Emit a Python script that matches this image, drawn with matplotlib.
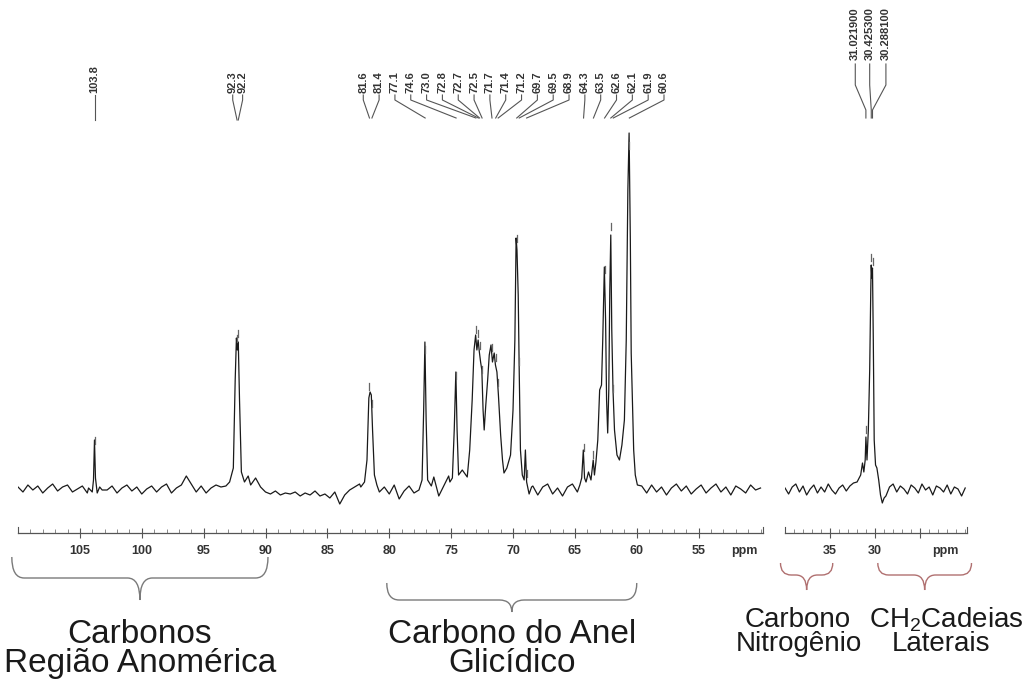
import numpy as np
import matplotlib
matplotlib.use("Agg")
import matplotlib.pyplot as plt
from matplotlib.path import Path
from matplotlib.patches import PathPatch

plt.rcParams['font.family'] = ['Liberation Sans', 'DejaVu Sans']
plt.rcParams['mathtext.default'] = 'regular'

# ---------------- data (intensity in arbitrary units above baseline) ----------------
# left window: 110 -> 50 ppm, baseline noise sampled every 0.4 ppm
left_grid_start, left_grid_stop, left_grid_step = 110.0, 49.9, -0.4
left_noise = [3, -2, 5, 0, 4, -3, 2, 6, -1, 3,
              5, -2, 1, 4, -3, 2, 0, 0, 0, 4,
              -3, 2, 5, -1, 3, -4, 1, 4, -2, 3,
              6, -3, 2, 5, 14, 6, -2, 4, -3, 2,
              5, 3, 10, 0, 0, 0, 0, 0, 12, 3,
              -2, -4, -1, -5, -3, -4, -2, -6, -3, -5,
              -1, -6, -4, -8, -2, -14, -5, 0, 3, 6,
              0, 0, 4, -2, 3, -4, 5, -9, -1, 4,
              -3, 0, 0, 0, 13, -6, 4, 14, 0, 0,
              0, 0, 0, 0, 0, 0, 0, 0, 0, 0,
              0, 0, 0, 0, 4, -5, 3, 6, -4, 2,
              -6, 3, 6, -2, 0, 0, 0, 0, 0, 0,
              0, 0, 0, 0, 0, 0, 4, -3, 5, -2,
              3, -5, 2, 6, -1, 4, -4, 1, 5, -3,
              2, 6, -2, 3, -5, 4, 1, -3, 5, 0,
              2]

# peak regions (ppm, intensity)
peak_103 = [(104.3, 2), (104.0, -2), (103.9, 10), (103.82, 50), (103.74, 12), (103.6, -3), (103.4, 3)]
peak_92 = [(93.2, 4), (92.9, 8), (92.6, 22), (92.45, 110), (92.35, 152), (92.28, 140),
           (92.2, 148), (92.1, 90), (91.95, 18), (91.7, 8), (91.4, 14), (91.2, 5)]
peak_81 = [(82.3, 3), (82.0, 8), (81.8, 30), (81.65, 92), (81.55, 98), (81.45, 95),
           (81.35, 60), (81.2, 15), (81.0, 5)]
peak_77 = [(77.6, 0), (77.35, 10), (77.22, 80), (77.12, 148), (77.02, 70), (76.9, 10), (76.6, 4)]
peak_ring = [(75.1, 8), (74.9, 12), (74.75, 60), (74.62, 118), (74.52, 60), (74.4, 15),
             (74.1, 20), (73.7, 13), (73.5, 40), (73.3, 90), (73.15, 140), (73.02, 155),
             (72.92, 140), (72.82, 150), (72.72, 138), (72.62, 128), (72.52, 120), (72.42, 80),
             (72.33, 60), (72.2, 85), (72.05, 110), (71.92, 135), (71.78, 145), (71.66, 128),
             (71.52, 137), (71.42, 125), (71.3, 118), (71.18, 95), (71.0, 55), (70.85, 30),
             (70.73, 17), (70.5, 22), (70.2, 35), (70.0, 80), (69.85, 150), (69.75, 252),
             (69.68, 240), (69.58, 195), (69.5, 120), (69.4, 40), (69.25, 15), (69.1, 10),
             (69.0, 40), (68.9, 8), (68.7, -4), (68.5, 3)]
peak_62 = [(64.6, 5), (64.45, 12), (64.32, 40), (64.22, 12), (64.1, 8), (63.9, 18), (63.7, 10),
           (63.52, 30), (63.42, 15), (63.3, 28), (63.15, 50), (63.0, 100), (62.85, 105),
           (62.75, 150), (62.62, 223), (62.52, 170), (62.44, 90), (62.35, 57), (62.26, 100),
           (62.18, 200), (62.1, 255), (62.02, 160), (61.92, 100), (61.8, 60), (61.6, 35),
           (61.4, 30), (61.2, 45), (61.0, 70), (60.85, 150), (60.72, 300), (60.62, 357),
           (60.52, 250), (60.45, 137), (60.35, 90), (60.25, 40), (60.12, 15), (59.95, 5)]

# right window: 40 -> 20 ppm
right_grid_start, right_grid_stop, right_grid_step = 40.0, 19.9, -0.4
right_noise = [2, -4, 3, 6, -2, 4, -5, 1, 5, -3,
               3, -2, 6, 0, -4, 2, 5, -1, 4, 7,
               0, 0, 0, 0, 0, 0, 0, 0, -6, 3,
               6, -2, 4, 1, -4, 5, 2, -3, 6, 0,
               3, -5, 4, 2, -2, 5, -4, 3, 1, -6,
               2]
peak_30 = [(32.0, 8), (31.6, 15), (31.4, 27), (31.25, 18), (31.1, 30), (31.02, 53), (30.9, 30),
           (30.75, 60), (30.6, 120), (30.48, 200), (30.43, 225), (30.36, 212), (30.29, 222),
           (30.2, 150), (30.1, 50), (29.95, 25), (29.8, 22), (29.6, 10), (29.4, -5),
           (29.2, -13), (29.0, -8)]

# peak labels
left_single = ["103.8"]
left_single_ppm = [103.8]
left_pair = ["92.3", "92.2"]
left_pair_ppm = [92.3, 92.2]
ring_labels = ["81.6", "81.4", "77.1", "74.6", "73.0", "72.8", "72.7", "72.5", "71.7", "71.4",
               "71.2", "69.7", "69.5", "68.9", "64.3", "63.5", "62.6", "62.1", "61.9", "60.6"]
ring_ppm = [81.6, 81.4, 77.1, 74.6, 73.0, 72.8, 72.7, 72.5, 71.7, 71.4,
            71.2, 69.7, 69.5, 68.9, 64.3, 63.5, 62.6, 62.1, 61.9, 60.6]
right_labels = ["31.021900", "30.425300", "30.288100"]
right_ppm = [31.0219, 30.4253, 30.2881]

left_ticks = [105, 100, 95, 90, 85, 80, 75, 70, 65, 60, 55]
right_ticks = [35, 30]

group_texts = [("Carbonos", "Região Anomérica"), ("Carbono do Anel", "Glicídico"),
               ("Carbono", "Nitrogênio"), ("CH$_2$Cadeias", "Laterais")]
group_ranges = [(110.5, 89.8), (80.2, 60.0), (40.5, 34.7), (29.7, 19.3)]


def build_trace(grid, noise, segments):
    grid = np.asarray(grid, float)
    noise = np.asarray(noise, float)
    keep = np.ones(len(grid), bool)
    xs, ys = [], []
    for seg in segments:
        sx = np.array([p[0] for p in seg], float)
        sy = np.array([p[1] for p in seg], float)
        keep &= ~((grid <= sx.max() + 1e-9) & (grid >= sx.min() - 1e-9))
        xs.append(sx)
        ys.append(sy)
    x = np.concatenate([grid[keep]] + xs)
    y = np.concatenate([noise[keep]] + ys)
    order = np.argsort(-x)
    return x[order], y[order]


lgrid = np.arange(left_grid_start, left_grid_stop, left_grid_step)
rgrid = np.arange(right_grid_start, right_grid_stop, right_grid_step)
lx, ly = build_trace(lgrid, left_noise, [peak_103, peak_92, peak_81, peak_77, peak_ring, peak_62])
rx, ry = build_trace(rgrid, right_noise, [peak_30])

# ---------------- figure ----------------
W, H = 1029, 679
fig = plt.figure(figsize=(W / 100, H / 100), dpi=100)
AX_BOTTOM_PX = 533
ax1 = fig.add_axes([18 / W, (H - AX_BOTTOM_PX) / H, (763 - 18) / W, AX_BOTTOM_PX / H])
ax2 = fig.add_axes([785 / W, (H - AX_BOTTOM_PX) / H, (967 - 785) / W, AX_BOTTOM_PX / H])
ax1.set_xlim(110, 49.8)
ax2.set_xlim(40, 19.8)
for ax in (ax1, ax2):
    ax.set_ylim(-43, 490)
    ax.patch.set_alpha(0)
    for s in ("top", "left", "right"):
        ax.spines[s].set_visible(False)
    ax.spines["bottom"].set_color("#555555")
    ax.spines["bottom"].set_linewidth(0.9)
    ax.set_yticks([])
    ax.tick_params(axis="x", which="major", direction="inout", length=7, width=0.8,
                   color="#555555", labelsize=9, pad=5, labelcolor="#333333")
    ax.tick_params(axis="x", which="minor", direction="in", length=3, width=0.6, color="#777777")

line_kw = dict(color="#1a1a1a", lw=0.9)
ax1.plot(lx, ly, **line_kw)
ax2.plot(rx, ry, **line_kw)

ax1.set_xticks(left_ticks)
ax1.set_xticklabels([str(t) for t in left_ticks], fontweight="bold")
ax1.set_xticks(np.arange(110, 49.5, -1), minor=True)
ax2.set_xticks(right_ticks + [25])
ax2.set_xticklabels([str(t) for t in right_ticks] + [""], fontweight="bold")
ax2.set_xticks(np.arange(40, 19.5, -1), minor=True)
ax1.text(51.3, -43 - 12, "ppm", ha="center", va="top", fontsize=9, fontweight="bold", color="#333333")
ax2.text(22.2, -43 - 12, "ppm", ha="center", va="top", fontsize=9, fontweight="bold", color="#333333")
for ax, xl in ((ax1, (110, 49.8)), (ax2, (40, 19.8))):
    for xe in xl:
        ax.plot([xe, xe], [-43, -37], color="#555555", lw=0.8, clip_on=False)

# ---------------- peak labels ----------------
lab_kw = dict(rotation=90, ha="center", va="bottom", fontsize=8, fontweight="bold", color="#333333")
con_kw = dict(color="#555555", lw=0.8, clip_on=False)


def marker(ax, xs, ys, p):
    h = np.interp(p, xs[::-1], ys[::-1])
    ax.plot([p, p], [h + 5, h + 12], color="#666666", lw=0.9)


def label_group(ax, labels, ppms, lab_pos, y_text, y_bend, y_end, xs, ys):
    for lab, p, lp in zip(labels, ppms, lab_pos):
        ax.text(lp, y_text + 2, lab, **lab_kw)
        ax.plot([lp, lp, p], [y_text, y_bend, y_end], **con_kw)
        marker(ax, xs, ys, p)


label_group(ax1, left_single, left_single_ppm, left_single_ppm, 395, 390, 370, lx, ly)
label_group(ax1, left_pair, left_pair_ppm, [92.65, 91.85], 395, 390, 370, lx, ly)
label_group(ax1, ring_labels, ring_ppm, list(np.linspace(82.1, 57.8, len(ring_labels))),
            395, 390, 372, lx, ly)
for lab, p, lp in zip(right_labels, right_ppm, [32.2, 30.6, 28.8]):
    ax2.text(lp, 430, lab, **lab_kw)
    ax2.plot([lp, lp, p, p], [426, 405, 380, 372], **con_kw)
    marker(ax2, rx, ry, p)


# ---------------- braces and group names ----------------
def brace(ax, x0, x1, y_top, y_mid, y_tip, r, color):
    xc = (x0 + x1) / 2
    s = np.sign(x1 - x0)
    verts = [(x0, y_top), (x0, y_mid), (x0 + s * r, y_mid),
             (xc - s * r, y_mid),
             (xc, y_mid), (xc, y_tip),
             (xc, y_mid), (xc + s * r, y_mid),
             (x1 - s * r, y_mid),
             (x1, y_mid), (x1, y_top)]
    codes = [Path.MOVETO, Path.CURVE3, Path.CURVE3, Path.LINETO, Path.CURVE3, Path.CURVE3,
             Path.CURVE3, Path.CURVE3, Path.LINETO, Path.CURVE3, Path.CURVE3]
    ax.add_patch(PathPatch(Path(verts, codes), fill=False, ec=color, lw=1.0, clip_on=False))
    return xc


# (axes, brace top, brace line, brace tip, corner, colour, font size,
#  line-1 centre, line-1 baseline, line-2 centre, line-2 baseline)
brace_specs = [(ax1, -67, -88, -110, 1.0, "#7a7a7a", 24, None, -153, None, -182),
               (ax1, -93, -110, -122, 1.0, "#7a7a7a", 24, None, -153, None, -182),
               (ax2, -73, -85, -100, 1.2, "#b07070", 20, 38.6, -137, 38.5, -161),
               (ax2, -73, -85, -100, 1.2, "#b07070", 20, 22.1, -137, 22.7, -161)]
for (t1, t2), (x0, x1), spec in zip(group_texts, group_ranges, brace_specs):
    ax, yt, ym, ytip, r, col, fs, c1, yb1, c2, yb2 = spec
    xc = brace(ax, x0, x1, yt, ym, ytip, r, col)
    ax.text(xc if c1 is None else c1, yb1, t1, ha="center", va="baseline", fontsize=fs,
            color="#1a1a1a", clip_on=False)
    ax.text(xc if c2 is None else c2, yb2, t2, ha="center", va="baseline", fontsize=fs,
            color="#1a1a1a", clip_on=False)

fig.savefig("out.png", dpi=100, facecolor="white")
